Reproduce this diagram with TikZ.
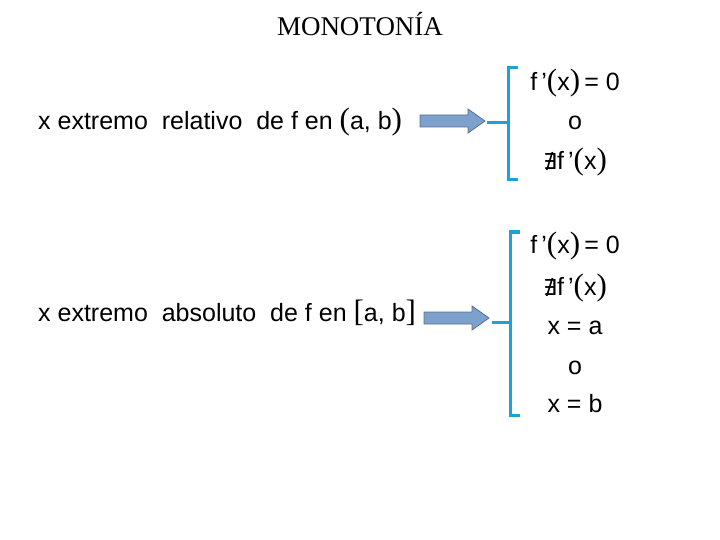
\documentclass[tikz,border=0pt]{standalone}
\usepackage{fontspec}
\setmainfont{Liberation Sans}
\newfontfamily\titlefont{Liberation Serif}
\newfontfamily\symfont{DejaVu Sans}
\definecolor{brc}{RGB}{30,160,220}
\definecolor{arr}{RGB}{125,160,205}
\tikzset{x=1pt,y=-1pt,
 lbl/.style={font=\fontsize{25}{28}\selectfont,anchor=base west,inner sep=0},
 itm/.style={font=\fontsize{25}{28}\selectfont,anchor=base,inner sep=0},
 blk/.style={draw=arr!70!black,fill=arr,line width=0.8pt},
 brk/.style={draw=brc,line width=3pt}}
\newcommand{\bp}[1]{{\fontsize{31}{31}\selectfont\titlefont #1}}
\newcommand{\pr}{\,\char"27}
\newcommand{\nexf}{{\symfont\fontsize{22}{22}\selectfont ∄}f\pr\bp{(}x\bp{)}}
\begin{document}
\begin{tikzpicture}
\useasboundingbox (0,0) rectangle (720,540);
\node[font=\titlefont\fontsize{27}{30}\selectfont,inner sep=0] (t) at (360,24) {MONOTONÍA};
\node[lbl] (l1) at (38,130) {x extremo\ \ relativo\ \ de f en \bp{(}a, b\bp{)}};
\coordinate (a1) at (420,121);
\draw[blk] (a1) ++(0,-6) -- ++(48,0) -- ++(0,-6) -- ++(17,12) -- ++(-17,12) -- ++(0,-6) -- ++(-48,0) -- cycle;
\node[itm] (r11) at (575,91) {f\pr\bp{(}x\bp{)}\,= 0};
\node[itm] (r12) at (575,130) {o};
\node[itm] (r13) at (575,170) {\nexf};
\coordinate (b1t) at (518,68); \coordinate (b1b) at (518,180); \coordinate (b1m) at (487,123);
\draw[brk] (b1t) -- (508,68) -- (508,180) -- (b1b);
\draw[brk] (b1m) -- (508,123);
\node[lbl] (l2) at (38,321) {x extremo\ \ absoluto\ \ de f en \bp{[}a, b\bp{]}};
\coordinate (a2) at (424,318);
\draw[blk] (a2) ++(0,-6) -- ++(48,0) -- ++(0,-6) -- ++(17,12) -- ++(-17,12) -- ++(0,-6) -- ++(-48,0) -- cycle;
\node[itm] (r21) at (575,254) {f\pr\bp{(}x\bp{)}\,= 0};
\node[itm] (r22) at (575,295) {\nexf};
\node[itm] (r23) at (575,334) {x = a};
\node[itm] (r24) at (575,374) {o};
\node[itm] (r25) at (575,412) {x = b};
\coordinate (b2t) at (520,232); \coordinate (b2b) at (520,415); \coordinate (b2m) at (492,322);
\draw[brk] (b2t) -- (510,232) -- (510,415) -- (b2b);
\draw[brk] (b2m) -- (510,322);
\end{tikzpicture}
\end{document}
